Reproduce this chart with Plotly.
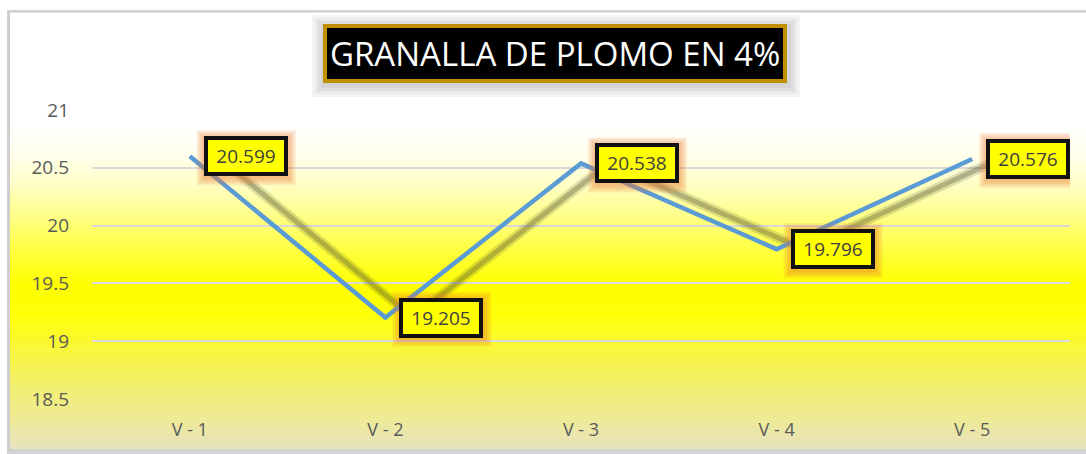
import plotly.graph_objects as go

categories = ["V - 1", "V - 2", "V - 3", "V - 4", "V - 5"]
values = [20.599, 19.205, 20.538, 19.796, 20.576]
value_labels = ["20.599", "19.205", "20.538", "19.796", "20.576"]
y_ticks = [18.5, 19, 19.5, 20, 20.5, 21]
title_text = "GRANALLA DE PLOMO EN 4%"

W, H = 1086, 454
L, R, T, B = 92, 16, 110, 55
PW, PH = W - L - R, H - T - B


def px2x(px):
    return (px - L) / PW


def px2y(py):
    return (H - B - py) / PH


def hex2rgb(h):
    h = h.lstrip("#")
    return tuple(int(h[i:i + 2], 16) for i in (0, 2, 4))


grad_stops = [
    (12, "#FFFFFF"), (125, "#FFFFFF"), (155, "#FFFFEC"), (185, "#FFFFC4"),
    (215, "#FFFF8A"), (250, "#FFFF40"), (285, "#FFFF00"), (315, "#FFFF08"),
    (350, "#F9F73C"), (385, "#F3F06E"), (420, "#EEEA98"), (450, "#E6E2C0"),
]


def color_at(py):
    for (y0, c0), (y1, c1) in zip(grad_stops, grad_stops[1:]):
        if y0 <= py <= y1:
            t = (py - y0) / (y1 - y0)
            a, b = hex2rgb(c0), hex2rgb(c1)
            return "rgb(%d,%d,%d)" % tuple(round(a[i] + (b[i] - a[i]) * t) for i in range(3))
    return grad_stops[-1][1]


shapes = []
# chart frame shadow
shapes.append(dict(type="rect", xref="paper", yref="paper", layer="below",
                   x0=px2x(7), x1=px2x(1090), y0=px2y(454), y1=px2y(10),
                   fillcolor="#D4D4D4", line=dict(width=0)))
step = 3
py = 12
while py < 450:
    shapes.append(dict(type="rect", xref="paper", yref="paper", layer="below",
                       x0=px2x(10), x1=px2x(1090), y0=px2y(min(py + step, 450)), y1=px2y(py),
                       fillcolor=color_at(py + step / 2), line=dict(width=0)))
    py += step
shapes.append(dict(type="rect", xref="paper", yref="paper", layer="below",
                   x0=px2x(9), x1=px2x(1090), y0=px2y(450), y1=px2y(12),
                   fillcolor="rgba(0,0,0,0)", line=dict(width=1, color="#C8C8C8")))
# title soft shadow
for k in range(4):
    e = 2 + 3 * k
    shapes.append(dict(type="rect", xref="paper", yref="paper", layer="below",
                       x0=px2x(323 - e), x1=px2x(787 + e + 2), y0=px2y(83 + e + 3), y1=px2y(25 - e + 1),
                       fillcolor="rgba(0,0,0,0.045)", line=dict(width=0)))

# label glows (pixel-sized shapes anchored at data points)
LBL_SHIFT = 14
LBL_W, LBL_H = 84, 40
for c, v in zip(categories, values):
    for k in range(4):
        e = 1 + 2 * k
        shapes.append(dict(type="rect", xref="x", yref="y", layer="above",
                           xsizemode="pixel", ysizemode="pixel", xanchor=c, yanchor=v,
                           x0=LBL_SHIFT - e, x1=LBL_SHIFT + LBL_W + e + 1,
                           y0=-LBL_H / 2 - e - 2, y1=LBL_H / 2 + e - 1,
                           fillcolor="rgba(235,120,50,0.15)", line=dict(width=0)))

fig = go.Figure()
fig.add_trace(go.Scatter(x=categories, y=values, mode="none", hoverinfo="skip",
                         showlegend=False, xaxis="x", yaxis="y"))
fig.add_trace(go.Scatter(x=categories, y=values, mode="lines", hoverinfo="skip",
                         line=dict(color="rgba(90,90,50,0.20)", width=10),
                         showlegend=False, xaxis="x2", yaxis="y"))
fig.add_trace(go.Scatter(x=categories, y=values, mode="lines", hoverinfo="skip",
                         line=dict(color="rgba(80,80,50,0.32)", width=5),
                         showlegend=False, xaxis="x2", yaxis="y"))
fig.add_trace(go.Scatter(x=categories, y=values, mode="lines",
                         line=dict(color="#5B9BD5", width=4.5),
                         showlegend=False, xaxis="x3", yaxis="y"))

annotations = []
for c, v, t in zip(categories, values, value_labels):
    annotations.append(dict(x=c, y=v, xref="x", yref="y", text=t, showarrow=False,
                            xanchor="left", yanchor="middle", xshift=LBL_SHIFT,
                            width=LBL_W - 2 * 4 - 2 * 4, height=LBL_H - 2 * 4 - 2 * 4,
                            font=dict(family="Open Sans", size=19, color="#404040"),
                            bgcolor="#FFFF00", bordercolor="#111111",
                            borderwidth=4, borderpad=4))

annotations.append(dict(x=px2x(555), y=px2y(54), xref="paper", yref="paper",
                        text=title_text, showarrow=False, xanchor="center", yanchor="middle",
                        font=dict(family="Open Sans", size=33, color="#FFFFFF"),
                        bgcolor="#000000", bordercolor="#BF9000", borderwidth=4, borderpad=3))

shift = 0.14
fig.update_layout(
    width=W, height=H,
    margin=dict(l=L, r=R, t=T, b=B),
    paper_bgcolor="#FFFFFF",
    plot_bgcolor="rgba(0,0,0,0)",
    shapes=shapes,
    annotations=annotations,
    xaxis=dict(type="category", categoryarray=categories, range=[-0.5, 4.5],
               showgrid=False, zeroline=False, showline=False, ticks="",
               tickfont=dict(family="Open Sans", size=18, color="#595959"),
               ticklabelstandoff=18),
    xaxis2=dict(type="category", categoryarray=categories, overlaying="x",
                range=[-0.5 - shift, 4.5 - shift], visible=False),
    xaxis3=dict(type="category", categoryarray=categories, overlaying="x",
                range=[-0.5, 4.5], visible=False),
    yaxis=dict(range=[18.5, 21], tickvals=y_ticks, ticktext=[str(v) for v in y_ticks],
               showgrid=True, gridcolor="#D9D9D9", gridwidth=1.5, zeroline=False,
               showline=False, ticks="",
               tickfont=dict(family="Open Sans", size=19, color="#595959"),
               ticklabelstandoff=22),
)

fig.write_html("out.html", config={"displayModeBar": False},
               post_script="document.body.style.margin='0';document.body.style.overflow='hidden';")
